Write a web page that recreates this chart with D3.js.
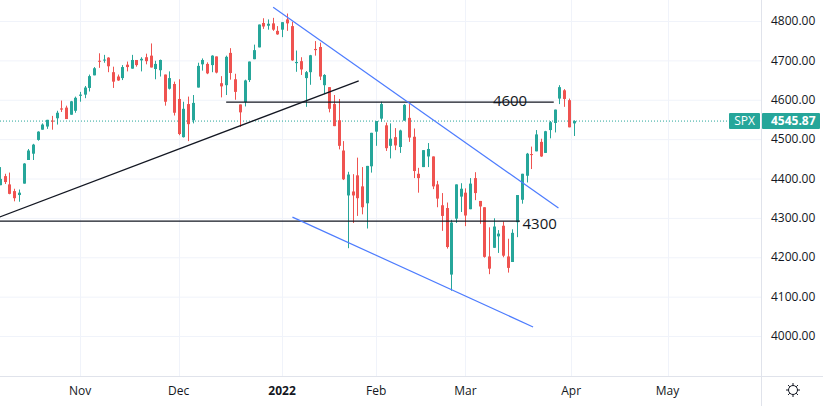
<!DOCTYPE html>
<html><head><meta charset="utf-8">
<script src="https://cdn.jsdelivr.net/npm/d3@7"></script>
<style>body{margin:0;background:#fff}svg{display:block;font-family:"Open Sans","Noto Sans",sans-serif}</style>
</head><body>
<svg width="823" height="406"></svg>
<script>
// daily SPX bars, Oct 6 2021 .. Apr 1 2022: [open, high, low, close]
const opens  = [4319,4383,4406,4385,4368,4358,4387,4447,4463,4498,4524,4532,4547,4553,4578,4580,4562,4572,
  4610,4613,4630,4662,4699,4701,4707,4670,4659,4655,4689,4679,4701,4700,4708,4712,4678,4675,4664,4628,4640,
  4602,4505,4589,4548,4631,4690,4691,4688,4710,4642,4637,4719,4652,4588,4594,4650,4703,4733,4795,4788,4794,4775,
  4778,4804,4787,4693,4698,4655,4670,4729,4734,4637,4632,4589,4548,4471,4357,4367,4408,4380,4337,4431,
  4519,4552,4535,4483,4505,4480,4547,4554,4506,4412,4429,4456,4456,4385,4332,4325,4156,4298,4354,
  4364,4322,4401,4343,4327,4202,4224,4253,4280,4202,4188,4289,4346,4407,4462,4469,4493,4465,4523,4541,4603,4624,4599,
  4540];
const highs  = [4365,4429,4412,4415,4374,4372,4439,4475,4488,4520,4540,4549,4559,4572,4598,4585,4597,4608,
  4620,4635,4664,4683,4718,4714,4708,4684,4664,4688,4697,4714,4701,4708,4717,4743,4699,4702,4664,4672,4646,
  4652,4595,4608,4612,4694,4705,4695,4713,4710,4660,4712,4731,4666,4588,4651,4697,4740,4791,4807,4804,4808,4787,
  4797,4819,4798,4725,4708,4673,4714,4749,4745,4665,4632,4612,4602,4495,4417,4411,4453,4429,4432,4516,
  4546,4595,4542,4540,4528,4524,4589,4589,4527,4427,4472,4490,4456,4394,4363,4339,4295,4385,4388,
  4375,4401,4416,4343,4327,4276,4299,4269,4291,4247,4271,4358,4412,4465,4481,4523,4501,4521,4546,4575,4637,4627,4603,
  4548];
const lows   = [4278,4383,4386,4360,4342,4341,4387,4447,4447,4496,4524,4526,4524,4537,4569,4551,4562,4567,
  4595,4604,4621,4662,4681,4694,4670,4630,4648,4650,4672,4679,4684,4672,4690,4682,4652,4659,4585,4626,4560,
  4510,4504,4495,4540,4631,4674,4665,4670,4667,4606,4612,4651,4600,4531,4583,4645,4703,4733,4780,4778,4775,4765,
  4759,4775,4699,4671,4663,4582,4638,4712,4650,4614,4568,4533,4474,4396,4223,4287,4305,4309,4273,4415,
  4483,4544,4470,4451,4472,4465,4547,4493,4401,4364,4429,4429,4373,4327,4267,4222,4115,4287,4315,
  4279,4322,4345,4285,4199,4157,4224,4211,4200,4161,4188,4251,4336,4390,4424,4469,4455,4465,4502,4517,4589,4582,4530,
  4508];
const closes = [4363,4399,4391,4361,4350,4364,4438,4471,4486,4519,4537,4549,4545,4567,4575,4551,4596,4605,
  4613,4631,4660,4680,4697,4702,4685,4646,4649,4683,4683,4701,4688,4704,4698,4682,4691,4701,4595,4655,4567,
  4513,4577,4538,4592,4686,4701,4667,4712,4669,4634,4709,4668,4620,4568,4649,4697,4726,4791,4786,4793,4778,4766,
  4797,4794,4700,4696,4677,4670,4713,4726,4659,4663,4577,4533,4483,4398,4410,4357,4350,4327,4432,4516,
  4546,4589,4477,4501,4484,4522,4587,4504,4419,4401,4472,4475,4380,4349,4305,4226,4288,4385,4374,
  4306,4387,4363,4329,4201,4171,4278,4260,4204,4173,4262,4358,4412,4463,4461,4512,4456,4520,4543,4575,4632,4602,4530,
  4545.87];

const monthLabels = ["Nov","Dec","2022","Feb","Mar","Apr","May"];
const monthBars   = [18, 39, 61, 81, 100, 122.5, 143];
const priceTicks  = [4000,4100,4200,4300,4400,4500,4600,4700,4800];
const lastPrice = 4545.87;

// drawings: [[bar, price], [bar, price]]
const blackLines = [[[0.86,4302],[77.3,4648]], [[49.1,4594],[118.8,4594]], [[-20,4292],[111.6,4292]]];
const blueLines  = [[[59.1,4835],[119.8,4325]], [[63.2,4302],[114.4,4023]]];
const lineLabels = [{t:"4600", bar:109.5, p:4598}, {t:"4300", bar:115.8, p:4285}];

const svg = d3.select("svg");
const plotW = 761, plotH = 376;
const x = d3.scaleLinear().domain([18, 123]).range([80, 573.5]);
const y = d3.scaleLinear().domain([4000, 4800]).range([336, 21]);

svg.append("clipPath").attr("id","c").append("rect").attr("width",plotW).attr("height",plotH);
const plot = svg.append("g").attr("clip-path","url(#c)");

// grid
plot.selectAll(".hg").data(priceTicks).join("line")
  .attr("x1",0).attr("x2",plotW).attr("y1",d=>y(d)+0.5).attr("y2",d=>y(d)+0.5).attr("stroke","#f0f3fa");
plot.selectAll(".vg").data(monthBars).join("line")
  .attr("y1",0).attr("y2",plotH).attr("x1",d=>Math.round(x(d))+0.5).attr("x2",d=>Math.round(x(d))+0.5).attr("stroke","#f0f3fa");

// last price dotted line
plot.append("line").attr("x1",0).attr("x2",plotW).attr("y1",y(lastPrice)).attr("y2",y(lastPrice))
  .attr("stroke","#26a69a").attr("stroke-dasharray","1,2");

// candles
const up = "#26a69a", dn = "#ef5350";
const bars = d3.range(closes.length);
const cg = plot.selectAll(".c").data(bars).join("g");
cg.append("line").attr("x1",i=>Math.round(x(i))+0.5).attr("x2",i=>Math.round(x(i))+0.5)
  .attr("y1",i=>y(highs[i])).attr("y2",i=>y(lows[i]))
  .attr("stroke",i=>closes[i]>=opens[i]?up:dn);
cg.append("rect").attr("x",i=>Math.round(x(i))-1).attr("width",3)
  .attr("y",i=>y(Math.max(opens[i],closes[i])))
  .attr("height",i=>Math.max(1,Math.abs(y(opens[i])-y(closes[i]))))
  .attr("fill",i=>closes[i]>=opens[i]?up:dn);

// drawings
const seg = (sel, data, color, w) => sel.selectAll(null).data(data).join("line")
  .attr("x1",d=>x(d[0][0])).attr("y1",d=>y(d[0][1])).attr("x2",d=>x(d[1][0])).attr("y2",d=>y(d[1][1]))
  .attr("stroke",color).attr("stroke-width",w);
seg(plot, blackLines, "#131722", 1.3);
seg(plot, blueLines, "#4d7cfe", 1.2);
plot.selectAll(null).data(lineLabels).join("text")
  .attr("x",d=>x(d.bar)).attr("y",d=>y(d.p)).attr("dy","0.35em")
  .attr("font-size",15).attr("fill","#131722").attr("text-anchor","middle").text(d=>d.t);

// borders
svg.append("line").attr("x1",plotW+0.5).attr("x2",plotW+0.5).attr("y1",0).attr("y2",406).attr("stroke","#e0e3eb");
svg.append("line").attr("x1",0).attr("x2",823).attr("y1",plotH+0.5).attr("y2",plotH+0.5).attr("stroke","#e0e3eb");

// price axis labels
svg.selectAll(".pl").data(priceTicks).join("text")
  .attr("x",771).attr("y",d=>y(d)).attr("dy","0.35em").attr("font-size",12).attr("fill","#131722")
  .text(d=>d3.format(".2f")(d));

// time axis labels
svg.selectAll(".tl").data(monthLabels).join("text")
  .attr("x",(d,i)=>x(monthBars[i])).attr("y",391).attr("dy","0.35em").attr("text-anchor","middle")
  .attr("font-size",12).attr("fill","#131722").attr("font-weight",d=>d==="2022"?"bold":null).text(d=>d);

// last price tags
const ly = y(lastPrice);
svg.append("rect").attr("x",729).attr("y",ly-8).attr("width",31).attr("height",16).attr("rx",1).attr("fill",up);
svg.append("text").attr("x",744.5).attr("y",ly).attr("dy","0.35em").attr("text-anchor","middle")
  .attr("font-size",12).attr("fill","#fff").text("SPX");
svg.append("rect").attr("x",762).attr("y",ly-8).attr("width",58).attr("height",16).attr("rx",1).attr("fill",up);
svg.append("text").attr("x",771).attr("y",ly).attr("dy","0.35em")
  .attr("font-size",12).attr("font-weight","bold").attr("fill","#fff").text(d3.format(".2f")(lastPrice));

// settings gear
const gear = svg.append("g").attr("transform","translate(793,390)").attr("stroke","#131722").attr("fill","none");
gear.append("circle").attr("r",4.5);
d3.range(8).forEach(k=>{
  const a = k*Math.PI/4;
  gear.append("line").attr("x1",4.5*Math.cos(a)).attr("y1",4.5*Math.sin(a)).attr("x2",7*Math.cos(a)).attr("y2",7*Math.sin(a));
});
</script>
</body></html>
